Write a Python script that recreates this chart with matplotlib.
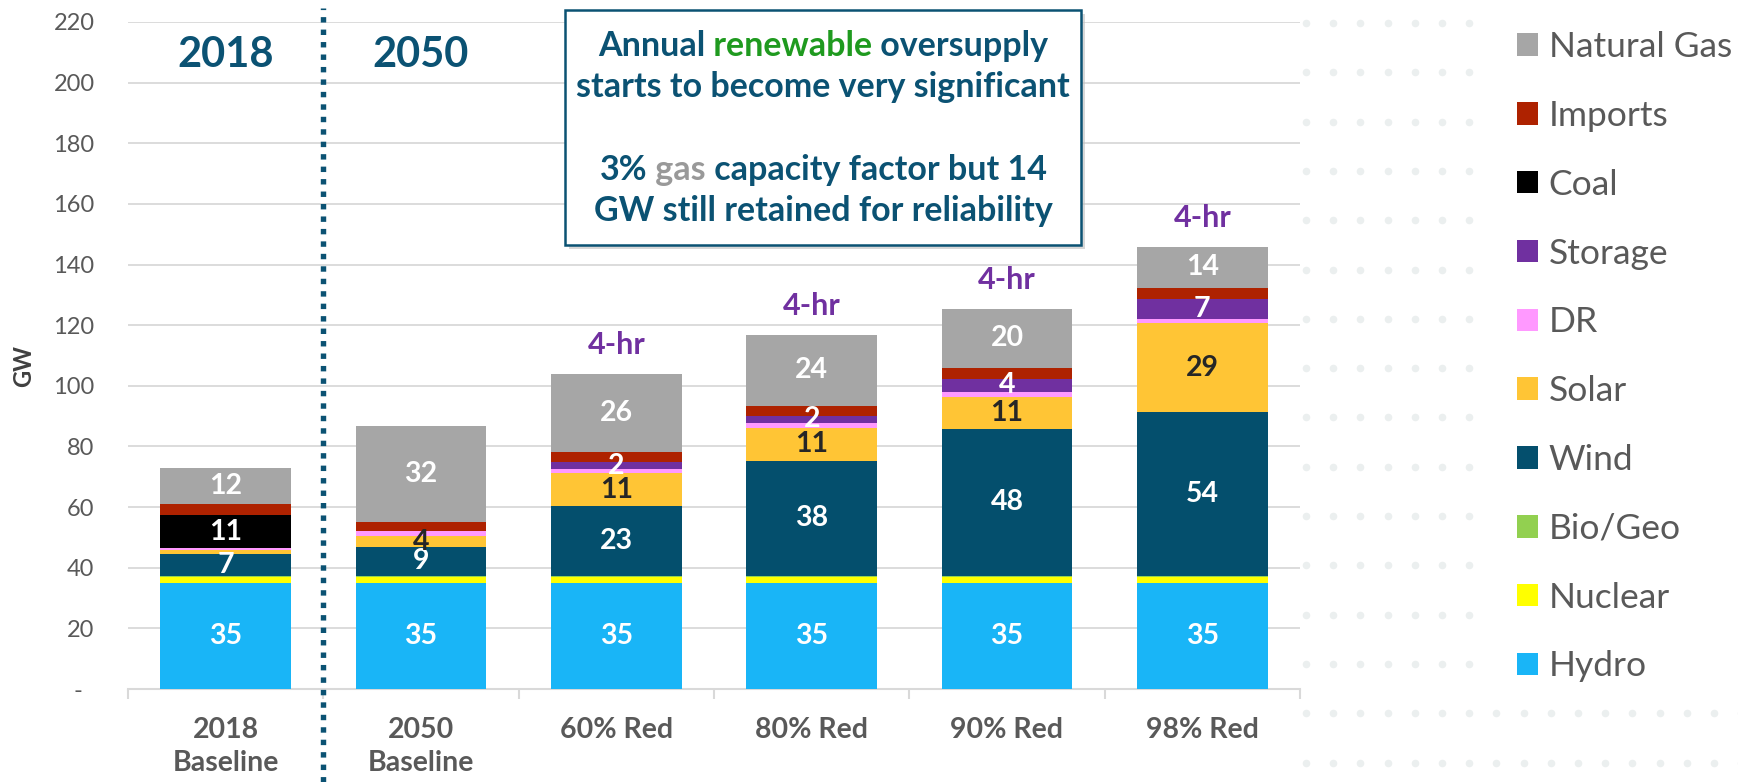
import matplotlib.pyplot as plt
import numpy as np
from matplotlib.patches import Rectangle

plt.rcParams['font.family'] = ['Lato', 'DejaVu Sans']

# capacity by scenario (GW)
categories = ['2018\nBaseline', '2050\nBaseline', '60% Red', '80% Red', '90% Red', '98% Red']

hydro   = [35.0, 35.0, 35.0, 35.0, 35.0, 35.0]
nuclear = [2.1, 2.1, 2.1, 2.1, 2.1, 2.1]
biogeo  = [0.3, 0.3, 0.3, 0.3, 0.3, 0.3]
wind    = [7.0, 9.4, 23.1, 37.9, 48.4, 53.9]
solar   = [1.5, 3.6, 10.6, 10.9, 10.6, 29.3]
dr      = [0.5, 1.6, 1.5, 1.6, 1.6, 1.5]
storage = [0.0, 0.0, 2.2, 2.2, 4.3, 6.6]
coal    = [11.0, 0.0, 0.0, 0.0, 0.0, 0.0]
imports = [3.5, 3.1, 3.5, 3.3, 3.6, 3.6]
gas     = [12.0, 31.7, 25.6, 23.6, 19.6, 13.6]

storage_note = ['', '', '4-hr', '4-hr', '4-hr', '4-hr']

# name, values, colour, colour of the value label (None = no label)
series = [
    ('Hydro', hydro, '#19B5F7', 'white'),
    ('Nuclear', nuclear, '#FFFF00', None),
    ('Bio/Geo', biogeo, '#92D050', None),
    ('Wind', wind, '#044F6D', 'white'),
    ('Solar', solar, '#FFC535', '#262626'),
    ('DR', dr, '#FF99FF', None),
    ('Storage', storage, '#7030A0', 'white'),
    ('Coal', coal, '#000000', 'white'),
    ('Imports', imports, '#AE2200', None),
    ('Natural Gas', gas, '#A6A6A6', 'white'),
]

TEAL = '#0B5273'
GREY = '#595959'

fig = plt.figure(figsize=(17.38, 7.82), dpi=100)

# faint dot pattern in the background (right side)
bg = fig.add_axes([0, 0, 1, 1], zorder=-5)
bg.set_xlim(0, 1738)
bg.set_ylim(782, 0)
bg.axis('off')
gx, gy = np.meshgrid(np.arange(1306, 1745, 27.2), np.arange(23, 790, 49.3))
keep = ~((gx > 1490) & (gy < 690))
bg.scatter(gx[keep], gy[keep], s=30, color='#EBEFEF', lw=0)

ax = fig.add_axes([0.0736, 0.1189, 0.6744, 0.853])
ax.patch.set_alpha(0)

x = np.arange(len(categories))
bottom = np.zeros(len(categories))
for name, vals, col, lab_col in series:
    vals = np.array(vals)
    ax.bar(x, vals, 0.67, bottom=bottom, color=col, label=name, zorder=3)
    if lab_col:
        for xi, b, v in zip(x, bottom, vals):
            if v >= 2:
                ax.text(xi, b + v / 2, f'{v:.0f}', ha='center', va='center',
                        color=lab_col, fontsize=20.5, fontweight='bold', zorder=4)
    bottom += vals

for xi, tot, note in zip(x, bottom, storage_note):
    if note:
        ax.text(xi, tot + 9.5, note, ha='center', va='center', color='#7030A0',
                fontsize=22, fontweight='bold')

ax.set_xlim(-0.5, 5.5)
ax.set_ylim(0, 220)
yt = np.arange(0, 221, 20)
ax.set_yticks(yt, ['-  '] + [str(v) for v in yt[1:]])
ax.tick_params(axis='y', length=0, pad=24, labelsize=17, labelcolor=GREY)
ax.yaxis.grid(True, color='#D9D9D9', lw=1.3, zorder=0)
ax.set_axisbelow(True)
for s in ['left', 'right', 'top']:
    ax.spines[s].set_visible(False)
ax.spines['bottom'].set_color('#D9D9D9')
ax.spines['bottom'].set_linewidth(1.5)

ax.set_xticks(x, categories)
ax.set_xticks(np.arange(-0.5, 6, 1), minor=True)
ax.tick_params(axis='x', which='major', length=0, pad=20, labelsize=20.5, labelcolor=GREY)
ax.tick_params(axis='x', which='minor', length=7, width=1.5, color='#D9D9D9')
for lab in ax.get_xticklabels():
    lab.set_fontweight('bold')
    lab.set_linespacing(1.35)

fig.text(24 / 1738, 1 - 366 / 782, 'GW', rotation=90, ha='center', va='center',
         fontsize=17, fontweight='bold', color='#404040')

# dotted divider between 2018 and 2050
ax.plot([0.5, 0.5], [-0.139, 1.021], transform=ax.get_xaxis_transform(), color=TEAL,
        lw=3.9, linestyle=(0, (1, 1.3)), dash_capstyle='butt', clip_on=False, zorder=5)
ax.text(0, 209, '2018', ha='center', va='center', fontsize=30, fontweight='bold', color=TEAL)
ax.text(1, 209, '2050', ha='center', va='center', fontsize=30, fontweight='bold', color=TEAL)

# call-out box, drawn on an overlay in pixel units
ov = fig.add_axes([0, 0, 1, 1], zorder=10)
ov.set_xlim(0, 1738)
ov.set_ylim(782, 0)
ov.axis('off')
ov.add_patch(Rectangle((569, 14), 516, 235, facecolor='#BFBFBF', alpha=0.6, lw=0))
ov.add_patch(Rectangle((565, 10), 516, 235, facecolor='white', edgecolor=TEAL, lw=1.8))

box_lines = [
    (46.5, [('Annual', TEAL), (' renewable', '#1F9A1F'), (' oversupply', TEAL)]),
    (87, [('starts to become very significant', TEAL)]),
    (170, [('3%', TEAL), (' gas', '#999999'), (' capacity factor but 14', TEAL)]),
    (211, [('GW still retained for reliability', TEAL)]),
]
line_texts = []
for y, parts in box_lines:
    first = ov.text(0, y, parts[0][0], color=parts[0][1], fontsize=24.5,
                    fontweight='bold', ha='left', va='center')
    prev = first
    for s, c in parts[1:]:
        prev = ov.annotate(s, xy=(1, 0), xycoords=prev, ha='left', va='bottom',
                           color=c, fontsize=24.5, fontweight='bold')
    line_texts.append((first, prev, y))

fig.canvas.draw()
for first, last, y in line_texts:
    w = last.get_window_extent().x1 - first.get_window_extent().x0
    first.set_x(823 - w / 2)

handles, labels = ax.get_legend_handles_labels()
fig.legend(handles[::-1], labels[::-1], loc='upper left',
           bbox_to_anchor=(1517 / 1738, 1 - 31 / 782), frameon=False,
           fontsize=25.5, labelcolor=GREY, handlelength=0.6, handleheight=0.6,
           handletextpad=0.3, labelspacing=1.04, borderaxespad=0, borderpad=0)

fig.savefig('out.png', dpi=100, facecolor='white')
